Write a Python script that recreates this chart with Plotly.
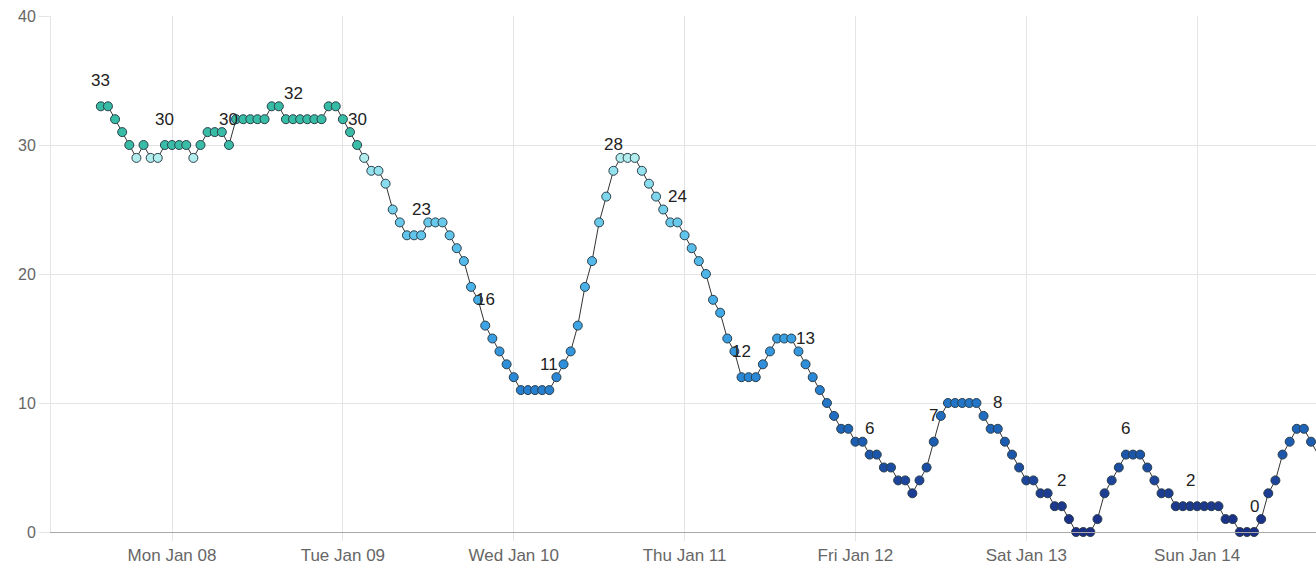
import pandas as pd
import plotly.graph_objects as go

# Hourly readings starting Sun Jan 07 2018 14:00
start_time = "2018-01-07 14:00"
temps = [33, 33, 32, 31, 30, 29, 30, 29, 29, 30,
         30, 30, 30, 29, 30, 31, 31, 31, 30, 32,
         32, 32, 32, 32, 33, 33, 32, 32, 32, 32,
         32, 32, 33, 33, 32, 31, 30, 29, 28, 28,
         27, 25, 24, 23, 23, 23, 24, 24, 24, 23,
         22, 21, 19, 18, 16, 15, 14, 13, 12, 11,
         11, 11, 11, 11, 12, 13, 14, 16, 19, 21,
         24, 26, 28, 29, 29, 29, 28, 27, 26, 25,
         24, 24, 23, 22, 21, 20, 18, 17, 15, 14,
         12, 12, 12, 13, 14, 15, 15, 15, 14, 13,
         12, 11, 10, 9, 8, 8, 7, 7, 6, 6,
         5, 5, 4, 4, 3, 4, 5, 7, 9, 10,
         10, 10, 10, 10, 9, 8, 8, 7, 6, 5,
         4, 4, 3, 3, 2, 2, 1, 0, 0, 0,
         1, 3, 4, 5, 6, 6, 6, 5, 4, 3,
         3, 2, 2, 2, 2, 2, 2, 2, 1, 1,
         0, 0, 0, 1, 3, 4, 6, 7, 8, 8,
         7, 6]
label_idx = [0, 9, 18, 27, 36, 45, 54, 63, 72, 81, 90, 99, 108, 117, 126, 135, 144, 153, 162, 171]
y_ticks = [0, 10, 20, 30, 40]
x_range = ["2018-01-07 07:00", "2018-01-14 16:42"]

times = pd.date_range(start_time, periods=len(temps), freq="h")

colorscale = [
    [0.0, "#1b2d86"],
    [3 / 33, "#1c3d93"],
    [6 / 33, "#1b56aa"],
    [9 / 33, "#1f6cc0"],
    [12 / 33, "#2a88d6"],
    [16 / 33, "#3da5e5"],
    [21 / 33, "#52b9ea"],
    [24 / 33, "#69c9ea"],
    [28 / 33, "#93e2ee"],
    [29 / 33, "#b3eeee"],
    [29.5 / 33, "#3abda6"],
    [1.0, "#36bba4"],
]

fig = go.Figure()
fig.add_trace(go.Scatter(
    x=times, y=temps, mode="lines+markers",
    line=dict(color="#333333", width=1),
    marker=dict(size=9, color=temps, colorscale=colorscale, cmin=0, cmax=33,
                line=dict(color="#2b3f4a", width=1)),
    cliponaxis=False, hoverinfo="x+y", showlegend=False,
))

annotations = []
for i in label_idx:
    annotations.append(dict(
        x=times[i], y=temps[i], xref="x", yref="y", text=str(temps[i]),
        showarrow=False, yshift=26,
        font=dict(family="Liberation Sans, Arial, sans-serif", size=17, color="#222222"),
    ))

grid = "#e4e4e4"
fig.update_layout(
    width=1316, height=569, autosize=False,
    margin=dict(l=51, r=0, t=16, b=37),
    paper_bgcolor="white", plot_bgcolor="white",
    font=dict(family="Liberation Sans, Arial, sans-serif", size=17, color="#666666"),
    annotations=annotations,
    xaxis=dict(
        type="date", range=x_range, tickformat="%a %b %d", dtick=86400000,
        tick0="2018-01-08", showgrid=True, gridcolor=grid, gridwidth=1,
        ticks="outside", ticklen=8, tickcolor=grid,
        showline=True, linecolor="#a8a8a8", linewidth=1,
        zeroline=False, tickfont=dict(size=17, color="#666666"),
    ),
    yaxis=dict(
        range=[0, 40], tickvals=y_ticks, showgrid=True, gridcolor=grid, gridwidth=1,
        ticks="outside", ticklen=11, tickcolor=grid,
        showline=True, linecolor=grid, linewidth=1,
        zeroline=False, tickfont=dict(size=16, color="#666666"),
    ),
)

fig.write_html("out.html", config={"displayModeBar": False},
               post_script="document.body.style.margin='0';document.body.style.overflow='hidden';")
